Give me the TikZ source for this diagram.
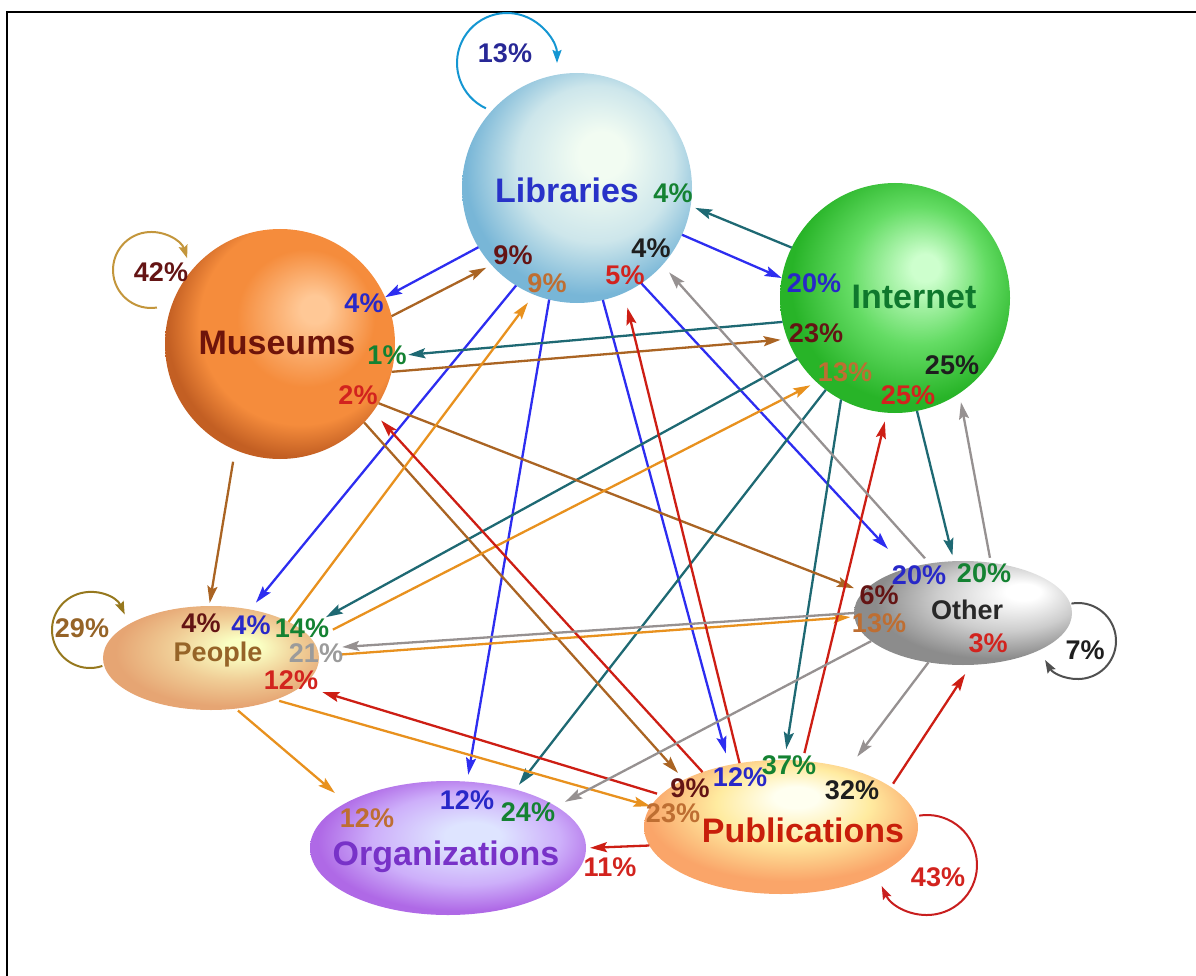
\documentclass[tikz,border=0pt]{standalone}
\usepackage{fontspec}
\setmainfont{Liberation Sans}
\usetikzlibrary{%
    shapes.geometric,%
    arrows.meta
}
\definecolor{libhi}{RGB}{242,252,242}\definecolor{libmid}{RGB}{205,230,235}\definecolor{libedge}{RGB}{120,182,215}
\definecolor{inthi}{RGB}{205,255,205}\definecolor{intmid}{RGB}{100,220,100}\definecolor{intedge}{RGB}{40,180,40}
\definecolor{mushi}{RGB}{255,200,150}\definecolor{musmid}{RGB}{245,140,60}\definecolor{musedge}{RGB}{195,95,35}
\definecolor{pplhi}{RGB}{250,255,195}\definecolor{pplmid}{RGB}{240,205,150}\definecolor{ppledge}{RGB}{230,165,115}
\definecolor{orghi}{RGB}{222,228,255}\definecolor{orgmid}{RGB}{205,175,250}\definecolor{orgedge}{RGB}{175,105,230}
\definecolor{pubhi}{RGB}{255,255,240}\definecolor{pubmid}{RGB}{255,235,160}\definecolor{pubedge}{RGB}{250,165,105}
\definecolor{othhi}{RGB}{255,255,255}\definecolor{othmid}{RGB}{205,205,205}\definecolor{othedge}{RGB}{140,140,140}
\definecolor{libline}{RGB}{45,45,240}\definecolor{intline}{RGB}{30,105,115}\definecolor{musline}{RGB}{170,100,35}
\definecolor{pplline}{RGB}{232,145,30}\definecolor{publine}{RGB}{205,30,20}\definecolor{othline}{RGB}{150,145,145}
\definecolor{pblue}{RGB}{40,40,200}\definecolor{pgreen}{RGB}{20,130,50}\definecolor{pdark}{RGB}{100,20,20}
\definecolor{pbrown}{RGB}{190,110,50}\definecolor{pred}{RGB}{210,35,30}\definecolor{pblack}{RGB}{30,30,30}
\definecolor{pgray}{RGB}{155,155,155}\definecolor{pnavy}{RGB}{40,40,150}
\definecolor{libtitle}{RGB}{40,50,200}\definecolor{inttitle}{RGB}{15,120,45}\definecolor{mustitle}{RGB}{110,20,10}
\definecolor{ppltitle}{RGB}{150,100,40}\definecolor{orgtitle}{RGB}{120,50,200}\definecolor{pubtitle}{RGB}{200,30,10}
\definecolor{othtitle}{RGB}{40,40,40}
\definecolor{libloopc}{RGB}{20,150,210}\definecolor{musloopc}{RGB}{195,150,60}\definecolor{pplloopc}{RGB}{150,120,30}
\definecolor{othloopc}{RGB}{80,80,80}\definecolor{publoopc}{RGB}{200,30,30}
\pgfdeclareradialshading{libshade}{\pgfpoint{6bp}{8bp}}{color(0bp)=(libhi); color(5bp)=(libhi); color(17bp)=(libmid); color(27bp)=(libedge); color(50bp)=(libedge)}
\pgfdeclareradialshading{intshade}{\pgfpoint{7bp}{7bp}}{color(0bp)=(inthi); color(3bp)=(inthi); color(15bp)=(intmid); color(26bp)=(intedge); color(50bp)=(intedge)}
\pgfdeclareradialshading{musshade}{\pgfpoint{8bp}{8bp}}{color(0bp)=(mushi); color(3bp)=(mushi); color(15bp)=(musmid); color(22bp)=(musmid); color(28bp)=(musedge); color(50bp)=(musedge)}
\pgfdeclareradialshading{pplshade}{\pgfpoint{8bp}{6bp}}{color(0bp)=(pplhi); color(4bp)=(pplhi); color(15bp)=(pplmid); color(26bp)=(ppledge); color(50bp)=(ppledge)}
\pgfdeclareradialshading{orgshade}{\pgfpoint{5bp}{5bp}}{color(0bp)=(orghi); color(5bp)=(orghi); color(17bp)=(orgmid); color(26bp)=(orgedge); color(50bp)=(orgedge)}
\pgfdeclareradialshading{pubshade}{\pgfpoint{3bp}{12bp}}{color(0bp)=(pubhi); color(4bp)=(pubhi); color(14bp)=(pubmid); color(26bp)=(pubedge); color(50bp)=(pubedge)}
\pgfdeclareradialshading{othshade}{\pgfpoint{15bp}{11bp}}{color(0bp)=(othhi); color(4bp)=(othhi); color(16bp)=(othmid); color(27bp)=(othedge); color(50bp)=(othedge)}

\begin{document}
\begin{tikzpicture}[x=1pt,y=-1pt,
    bubble/.style={shade,inner sep=0pt,outer sep=0pt},
    title/.style={font={\fontsize{34}{38}\selectfont\bfseries},inner sep=0pt},
    pct/.style={font={\fontsize{27}{30}\selectfont\bfseries},inner sep=0pt},
    link/.style={line width=2.3pt,->},
    selfloop/.style={line width=2pt,-{Stealth[length=13pt,width=9pt,inset=2pt]}},
    >={Stealth[length=17pt,width=10pt,inset=3pt]}]
\useasboundingbox(0,0) rectangle (1196,976);
\draw[line width=2pt](7,995)--(7,12)--(1210,12);

\node[bubble,circle,minimum size=230pt,shading=libshade] (lib) at (577,188) {};
\node[bubble,circle,minimum size=230pt,shading=intshade] (int) at (895,298) {};
\node[bubble,circle,minimum size=230pt,shading=musshade] (mus) at (280,344) {};
\node[bubble,ellipse,minimum width=216pt,minimum height=104pt,shading=pplshade] (ppl) at (211,658) {};
\node[bubble,ellipse,minimum width=276pt,minimum height=134pt,shading=orgshade] (org) at (448,848) {};
\node[bubble,ellipse,minimum width=274pt,minimum height=134pt,shading=pubshade] (pub) at (781,827) {};
\node[bubble,ellipse,minimum width=218pt,minimum height=104pt,shading=othshade] (oth) at (963,613) {};

\coordinate (libself) at (507,63);
\coordinate (musself) at (151,270);
\coordinate (pplself) at (90,630);
\coordinate (othself) at (1078,641);
\coordinate (pubself) at (927,865);
\draw[selfloop,libloopc](libself) ++(115:50) arc[start angle=115,end angle=360,radius=50];
\draw[selfloop,musloopc](musself) ++(81:38) arc[start angle=81,end angle=342,radius=38];
\draw[selfloop,pplloopc](pplself) ++(71:38) arc[start angle=71,end angle=336,radius=38];
\draw[selfloop,othloopc](othself) ++(260:38) arc[start angle=260,end angle=510,radius=38];
\draw[selfloop,publoopc](pubself) ++(261:50) arc[start angle=261,end angle=515,radius=50];

\draw[link,libline](lib.211)--(mus.24);
\draw[link,libline](lib.336)--(int.170);
\draw[link,libline,shorten >=9pt](lib.238)--(ppl.51);
\draw[link,libline,shorten >=7pt](lib.256)--(org.74);
\draw[link,libline,shorten >=12pt](lib.283)--(pub.130);
\draw[link,libline,shorten >=27pt](lib.304)--(oth.142);

\draw[link,intline,shorten >=5pt](int.154)--(lib.351);
\draw[link,intline,shorten >=14pt](int.192)--(mus.354);
\draw[link,intline,shorten >=27pt](int.212)--(ppl.17);
\draw[link,intline,shorten >=6pt](int.233)--(org.41);
\draw[link,intline,shorten >=11pt](int.242)--(pub.87);
\draw[link,intline,shorten >=6pt](int.281)--(oth.100);

\draw[link,musline,shorten >=6pt](mus.14)--(lib.222);
\draw[link,musline,shorten >=7pt](mus.346)--(int.201);
\draw[link,musline,shorten <=12pt,shorten >=3pt](mus.247)--(ppl.92);
\draw[link,musline,shorten >=9pt](mus.317)--(pub.154);
\draw[link,musline,shorten >=10pt](mus.329)--(oth.168);

\draw[link,pplline,shorten >=10pt](ppl.25)--(lib.248);
\draw[link,pplline,shorten <=23pt,shorten >=7pt](ppl.10)--(int.227);
\draw[link,pplline,shorten <=22pt,shorten >=4pt](ppl.1)--(oth.182);
\draw[link,pplline,shorten <=3pt,shorten >=15pt](ppl.296)--(org.156);
\draw[link,pplline,shorten <=4pt](ppl.327)--(pub.171);

\draw[link,publine,shorten >=15pt](pub.123)--(lib.294);
\draw[link,publine,shorten <=8pt,shorten >=9pt](pub.72)--(int.266);
\draw[link,publine,shorten >=12pt](pub.145)--(mus.324);
\draw[link,publine,shorten <=4pt,shorten >=21pt](pub.165)--(ppl.343);
\draw[link,publine,shorten >=4pt](pub.188)--(org.0);
\draw[link,publine,shorten <=4pt,shorten >=11pt](pub.20)--(oth.279);

\draw[link,othline,shorten <=7pt,shorten >=10pt](oth.124)--(lib.318);
\draw[link,othline,shorten <=5pt,shorten >=9pt](oth.61)--(int.304);
\draw[link,othline,shorten >=25pt](oth.180)--(ppl.5);
\draw[link,othline,shorten >=10pt](oth.197)--(org.21);
\draw[link,othline,shorten >=15pt](oth.235)--(pub.41);

\node[title,libtitle] (libname) at (567,190) {Libraries};
\node[pct,pgreen] (lib-int) at (673,193) {4\%};
\node[pct,pdark] (lib-mus) at (513,255) {9\%};
\node[pct,pbrown] (lib-ppl) at (547,283) {9\%};
\node[pct,pblack] (lib-oth) at (651,248) {4\%};
\node[pct,pred] (lib-pub) at (625,275) {5\%};

\node[title,inttitle] (intname) at (914,297) {Internet};
\node[pct,pblue] (int-lib) at (814,283) {20\%};
\node[pct,pdark] (int-mus) at (816,333) {23\%};
\node[pct,pbrown] (int-ppl) at (845,372) {13\%};
\node[pct,pblack] (int-oth) at (952,365) {25\%};
\node[pct,pred] (int-pub) at (908,395) {25\%};

\node[title,mustitle] (musname) at (277,343) {Museums};
\node[pct,pblue] (mus-lib) at (364,303) {4\%};
\node[pct,pgreen] (mus-int) at (387,355) {1\%};
\node[pct,pred] (mus-pub) at (358,395) {2\%};

\node[pct,ppltitle] (pplname) at (218,655) {People};
\node[pct,pdark] (ppl-mus) at (201,623) {4\%};
\node[pct,pblue] (ppl-lib) at (251,625) {4\%};
\node[pct,pgreen] (ppl-int) at (302,628) {14\%};
\node[pct,pgray] (ppl-oth) at (316,653) {21\%};
\node[pct,pred] (ppl-pub) at (291,680) {12\%};

\node[title,orgtitle] (orgname) at (446,857) {Organizations};
\node[pct,pbrown] (org-ppl) at (367,818) {12\%};
\node[pct,pblue] (org-lib) at (467,800) {12\%};
\node[pct,pgreen] (org-int) at (528,812) {24\%};
\node[pct,pred] (org-pub) at (610,867) {11\%};

\node[title,pubtitle] (pubname) at (803,830) {Publications};
\node[pct,pdark] (pub-mus) at (690,788) {9\%};
\node[pct,pblue] (pub-lib) at (740,777) {12\%};
\node[pct,pgreen] (pub-int) at (789,765) {37\%};
\node[pct,pblack] (pub-oth) at (852,790) {32\%};
\node[pct,pbrown] (pub-ppl) at (673,813) {23\%};

\node[pct,othtitle] (othname) at (967,610) {Other};
\node[pct,pblue] (oth-lib) at (919,575) {20\%};
\node[pct,pgreen] (oth-int) at (984,573) {20\%};
\node[pct,pdark] (oth-mus) at (879,595) {6\%};
\node[pct,pbrown] (oth-ppl) at (879,623) {13\%};
\node[pct,pred] (oth-pub) at (988,643) {3\%};

\node[pct,pnavy] (libselfpct) at (505,53) {13\%};
\node[pct,pdark] (musselfpct) at (161,272) {42\%};
\node[pct,ppltitle] (pplselfpct) at (82,628) {29\%};
\node[pct,pblack] (othselfpct) at (1085,650) {7\%};
\node[pct,pred] (pubselfpct) at (938,877) {43\%};
\end{tikzpicture}
\end{document}
